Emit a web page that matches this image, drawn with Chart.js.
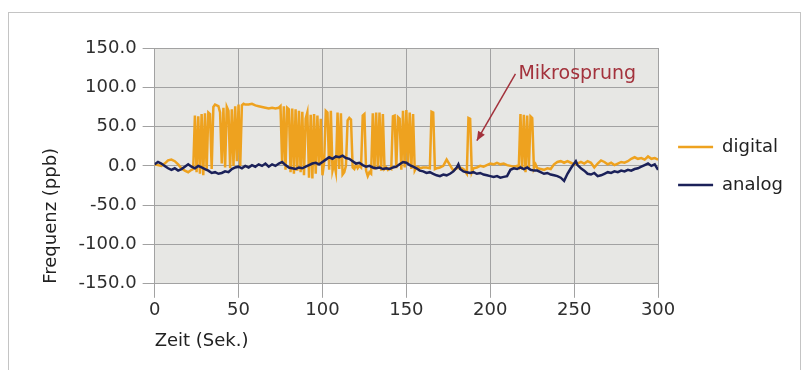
<!DOCTYPE html>
<html>
<head>
<meta charset="utf-8">
<script src="https://cdn.jsdelivr.net/npm/chart.js@4/dist/chart.umd.min.js"></script>
<style>
  body { margin: 0; background: #fff; }
  #wrap { position: relative; width: 803px; height: 370px; }
  #frame { position: absolute; left: 8px; top: 12px; width: 793px; height: 370px; border: 1px solid #c4c4c4; box-sizing: border-box; }
  canvas { position: absolute; left: 0; top: 0; }
</style>
</head>
<body>
<div id="wrap">
  <div id="frame"></div>
  <canvas id="chart" width="803" height="370"></canvas>
</div>
<script>
// time (s) and frequency (ppb)
const digitalT = [0,2,4,6,8,10,12,14,16,18,20,22,
  23,24,25,26,27,28,29,30,31,32,33,34,35,36,37,38,39,40,41,42,43,44,45,46,47,48,49,50,51,52,53,54,
  56,58,60,62,64,66,68,70,72,74,75,
  76,77,78,79,80,81,82,83,84,85,86,87,88,89,90,91,92,93,94,95,96,97,98,99,100,
  101,102,103,104,105,106,107,108,109,110,111,112,113,114,115,116,117,118,119,120,121,122,123,124,125,126,127,128,129,
  130,131,132,133,134,135,136,137,138,139,140,141,142,143,144,145,146,147,148,149,150,151,152,153,154,155,156,157,158,
  160,162,164,165,166,167,168,170,172,174,176,178,180,182,184,186,187,188,189,190,192,194,196,198,
  200,202,204,206,208,210,212,214,216,217,218,219,220,221,222,223,224,225,226,227,228,230,232,234,236,238,
  240,242,244,246,248,250,252,254,256,258,260,262,264,266,268,270,272,274,276,278,280,282,284,286,288,290,292,294,296,298,300];
const digitalV = [2,1,0,3,7,8,6,2,-3,-6,-8,-5,
  -4,64,-8,63,-10,66,-12,67,-6,68,66,-4,75,78,77,76,68,3,74,-2,75,70,-3,72,0,76,6,78,0,77,79,78,
  78,79,77,76,75,74,73,74,73,74,76,
  2,76,-5,74,72,-8,73,-10,72,-6,70,-8,69,-12,60,68,-15,65,-16,66,-10,64,2,60,-12,
  4,70,68,-5,70,-6,3,-8,68,-4,67,-11,-8,0,58,61,59,-2,-4,2,-3,0,-2,64,66,-6,-13,-8,-10,
  67,-5,68,-3,68,-6,66,-4,-2,-5,-3,-4,63,64,-3,62,60,-5,70,-2,71,3,68,-4,66,-6,-2,-1,-3,
  -2,-2,-3,69,68,-4,-3,-2,0,8,1,-6,-3,-2,-4,-10,61,60,-8,-3,-2,0,-1,1,
  3,2,4,2,3,1,0,-1,0,-2,66,-5,65,-8,64,-4,63,61,-3,2,-3,-4,-5,-3,-4,2,
  5,6,4,6,4,2,3,5,3,6,4,-2,3,7,5,2,4,1,3,5,4,6,9,11,9,10,8,12,9,10,8];

const analogT = [0,2,4,6,8,10,12,14,16,18,20,22,24,26,28,30,32,34,36,38,40,42,44,46,48,50,
  52,54,56,58,60,62,64,66,68,70,72,74,76,78,80,82,84,86,88,90,92,94,96,98,100,
  102,104,106,108,110,112,114,116,118,120,122,124,126,128,130,132,134,136,138,140,142,144,146,148,150,
  152,154,156,158,160,162,164,166,168,170,172,174,176,178,180,181,182,184,186,188,190,192,194,196,198,200,
  202,204,206,208,210,212,214,216,218,220,222,224,226,228,230,232,234,236,238,240,242,244,246,248,250,251,
  252,254,256,258,260,262,264,266,268,270,272,274,276,278,280,282,284,286,288,290,292,294,296,298,300];
const analogV = [2,5,3,0,-3,-5,-3,-6,-4,-1,2,-1,-3,0,-2,-4,-6,-9,-8,-10,-9,-7,-8,-4,-2,-1,
  -3,0,-2,1,-1,2,0,3,-1,2,0,3,5,1,-2,-3,-4,-2,-3,-1,1,3,4,2,5,
  8,11,9,12,11,13,10,9,6,3,4,1,-1,0,-2,-3,-2,-4,-3,-4,-2,-1,2,5,4,
  1,-1,-3,-6,-7,-9,-8,-10,-12,-13,-11,-12,-10,-7,-2,2,-4,-7,-8,-9,-8,-10,-9,-11,-12,-13,
  -14,-13,-15,-14,-13,-5,-3,-4,-2,-4,-2,-5,-6,-6,-8,-10,-9,-11,-12,-13,-15,-19,-10,-3,3,6,
  1,-3,-6,-10,-11,-9,-13,-12,-10,-8,-9,-7,-8,-6,-7,-5,-6,-4,-3,-1,1,3,0,2,-5];

const seriesNames = ['digital', 'analog'];
const seriesColors = ['#eea21f', '#1b2159'];
const yTicks = [-150, -100, -50, 0, 50, 100, 150];
const xTicks = [0, 50, 100, 150, 200, 250, 300];
const noteText = 'Mikrosprung';
const noteFrom = [215, 117];
const noteTo = [192, 32];

const fontFam = '"DejaVu Sans", sans-serif';
const gridColor = '#a2a2a2';

const plotBg = {
  id: 'plotBg',
  beforeDraw(chart) {
    const { ctx, chartArea } = chart;
    ctx.save();
    ctx.fillStyle = '#e7e7e4';
    ctx.fillRect(chartArea.left, chartArea.top, chartArea.right - chartArea.left, chartArea.bottom - chartArea.top);
    ctx.restore();
  }
};

const note = {
  id: 'note',
  afterDatasetsDraw(chart) {
    const { ctx, scales } = chart;
    const x1 = scales.x.getPixelForValue(noteFrom[0]), y1 = scales.y.getPixelForValue(noteFrom[1]);
    const x2 = scales.x.getPixelForValue(noteTo[0]), y2 = scales.y.getPixelForValue(noteTo[1]);
    ctx.save();
    ctx.strokeStyle = '#a3323c';
    ctx.fillStyle = '#a3323c';
    ctx.lineWidth = 1.5;
    ctx.beginPath();
    ctx.moveTo(x1, y1);
    ctx.lineTo(x2, y2);
    ctx.stroke();
    // arrow head
    const a = Math.atan2(y2 - y1, x2 - x1);
    ctx.beginPath();
    ctx.moveTo(x2, y2);
    ctx.lineTo(x2 - 10 * Math.cos(a - 0.4), y2 - 10 * Math.sin(a - 0.4));
    ctx.lineTo(x2 - 10 * Math.cos(a + 0.4), y2 - 10 * Math.sin(a + 0.4));
    ctx.closePath();
    ctx.fill();
    ctx.font = '19px ' + fontFam;
    ctx.textBaseline = 'middle';
    ctx.fillText(noteText, x1 + 3, y1);
    ctx.restore();
  }
};

const ctx = document.getElementById('chart');
const myChart = new Chart(ctx, {
  type: 'line',
  plugins: [plotBg, note],
  data: {
    datasets: [
      {
        label: seriesNames[0],
        data: digitalT.map((t, i) => ({ x: t, y: digitalV[i] })),
        borderColor: seriesColors[0],
        backgroundColor: seriesColors[0],
        borderWidth: 2.5,
        pointRadius: 0,
        tension: 0,
        order: 1,
      },
      {
        label: seriesNames[1],
        data: analogT.map((t, i) => ({ x: t, y: analogV[i] })),
        borderColor: seriesColors[1],
        backgroundColor: seriesColors[1],
        borderWidth: 2.5,
        pointRadius: 0,
        tension: 0,
        order: 0,
      },
    ],
  },
  options: {
    responsive: false,
    animation: false,
    layout: { padding: { left: 41, top: 48, right: 10, bottom: 18 } },
    plugins: {
      tooltip: { enabled: false },
      legend: {
        position: 'right',
        align: 'center',
        fullSize: false,
        labels: {
          sort: (a, b) => a.datasetIndex - b.datasetIndex,
          boxWidth: 35,
          boxHeight: 0,
          padding: 20,
          color: '#222',
          font: { family: fontFam, size: 18 },
        },
      },
    },
    scales: {
      x: {
        type: 'linear',
        min: 0,
        max: 300,
        afterBuildTicks: s => { s.ticks = xTicks.map(v => ({ value: v })); },
        grid: { color: gridColor, tickColor: gridColor, tickLength: 14 },
        border: { color: gridColor },
        ticks: { color: '#2e2e2e', padding: 2, maxRotation: 0, font: { family: fontFam, size: 18 } },
        title: {
          display: true, text: 'Zeit (Sek.)', align: 'start', color: '#222',
          padding: { top: 7, bottom: 0 },
          font: { family: fontFam, size: 18 },
        },
      },
      y: {
        min: -150,
        max: 150,
        afterBuildTicks: s => { s.ticks = yTicks.map(v => ({ value: v })); },
        grid: { color: gridColor, tickColor: gridColor, tickLength: 12 },
        border: { color: gridColor },
        ticks: { color: '#2e2e2e', padding: 6, callback: v => v.toFixed(1), font: { family: fontFam, size: 18 } },
        title: {
          display: true, text: 'Frequenz (ppb)', align: 'start', color: '#222',
          padding: { top: 0, bottom: 10 },
          font: { family: fontFam, size: 18 },
        },
      },
    },
  },
});
</script>
</body>
</html>
